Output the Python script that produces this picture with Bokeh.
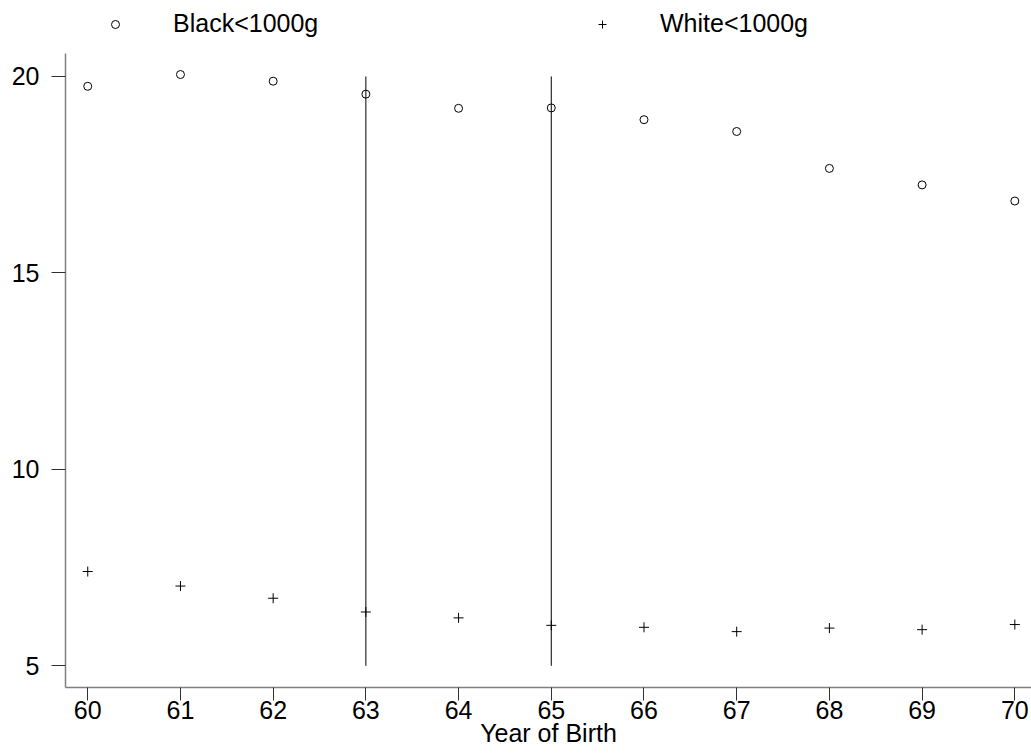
from bokeh.plotting import figure
from bokeh.models import Legend, LegendItem, Range1d, FixedTicker
from bokeh.embed import file_html
from bokeh.resources import INLINE

years = [60, 61, 62, 63, 64, 65, 66, 67, 68, 69, 70]
black_lt1000 = [19.75, 20.05, 19.88, 19.55, 19.19, 19.20, 18.90, 18.60, 17.66, 17.24, 16.83]
white_lt1000 = [7.40, 7.03, 6.72, 6.37, 6.22, 6.03, 5.98, 5.87, 5.96, 5.92, 6.05]
ref_years = [63, 65]
ref_low = [5, 5]
ref_high = [20, 20]
x_ticks = [60, 61, 62, 63, 64, 65, 66, 67, 68, 69, 70]
y_ticks = [5, 10, 15, 20]

FONT = "Liberation Sans"
FS = "25px"

p = figure(width=1031, height=754, output_backend="svg", toolbar_location=None,
           x_range=Range1d(59.76, 70.18), y_range=Range1d(4.448, 21.934),
           min_border_left=65, min_border_right=0, min_border_top=0, min_border_bottom=67)
p.outline_line_color = None
p.xgrid.visible = False
p.ygrid.visible = False
p.background_fill_color = "white"
p.border_fill_color = "white"

p.segment(x0=ref_years, y0=ref_low, x1=ref_years, y1=ref_high, line_color="black", line_width=1)

r_black = p.scatter(years, black_lt1000, marker="circle", size=8, fill_color=None,
                    line_color="black", line_width=1)
r_white = p.scatter(years, white_lt1000, marker="cross", size=10,
                    line_color="black", line_width=1)

for ax in (p.xaxis[0], p.yaxis[0]):
    ax.axis_line_color = "#808080"
    ax.axis_line_width = 1.5
    ax.major_tick_line_color = "#303030"
    ax.major_tick_line_width = 1
    ax.major_tick_in = 0
    ax.minor_tick_line_color = None
    ax.major_label_text_font = FONT
    ax.major_label_text_font_size = FS
    ax.major_label_text_color = "black"
    ax.axis_label_text_font = FONT
    ax.axis_label_text_font_size = FS
    ax.axis_label_text_font_style = "normal"
    ax.axis_label_text_color = "black"

p.xaxis[0].ticker = FixedTicker(ticks=x_ticks)
p.yaxis[0].ticker = FixedTicker(ticks=y_ticks)
p.yaxis[0].bounds = (4.448, 20.585)
p.xaxis[0].major_tick_out = 13
p.yaxis[0].major_tick_out = 14
p.xaxis[0].major_label_standoff = 0
p.yaxis[0].major_label_standoff = 12
p.xaxis[0].axis_label = "Year of Birth"
p.xaxis[0].axis_label_standoff = -3

def make_legend(label, renderer, loc):
    lg = Legend(items=[LegendItem(label=label, renderers=[renderer])], location=loc,
                orientation="horizontal", border_line_color=None, background_fill_alpha=0,
                padding=0, margin=0, spacing=0, glyph_width=20, glyph_height=20,
                label_standoff=48, label_text_font=FONT, label_text_font_size=FS,
                label_text_color="black")
    return lg

p.add_layout(make_legend("Black<1000g", r_black, (40, 649)), "center")
p.add_layout(make_legend("White<1000g", r_white, (527, 649)), "center")

open("out.html", "w").write(file_html(p, INLINE))
